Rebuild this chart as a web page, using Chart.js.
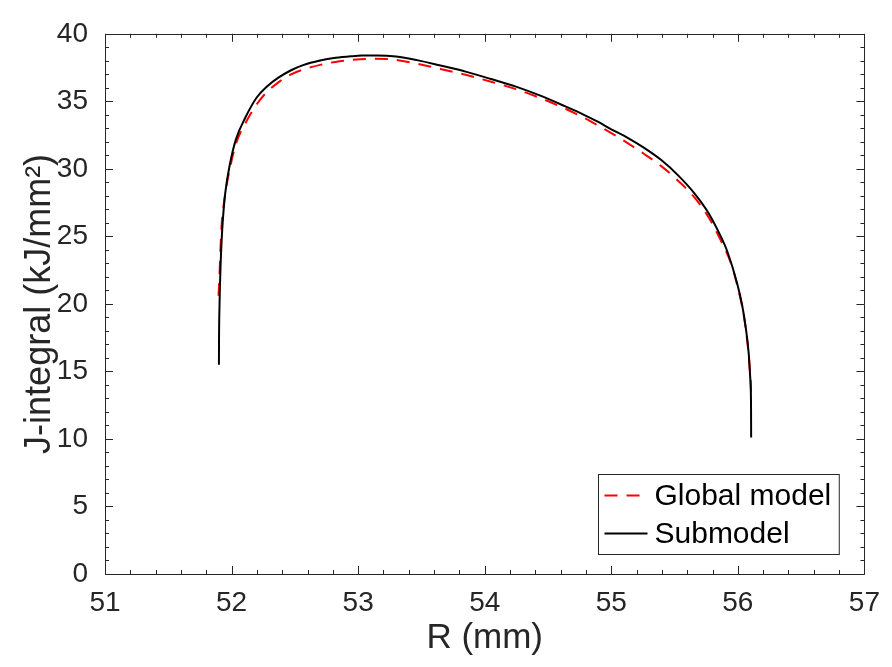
<!DOCTYPE html>
<html>
<head>
<meta charset="utf-8">
<title>J-integral vs R</title>
<script src="https://cdn.jsdelivr.net/npm/chart.js@4.4.1/dist/chart.umd.min.js"></script>
<style>
  html, body { margin: 0; padding: 0; background: #fff; }
  #wrap { width: 892px; height: 667px; }
</style>
</head>
<body>
<div id="wrap"><canvas id="jChart"></canvas></div>
<script>
// R (mm) / J (kJ/mm^2) along the crack front
const rGlobal = [51.897, 51.904, 51.912, 51.921, 51.933, 51.965, 52.000, 52.040, 52.110, 52.200,
                 52.280, 52.383, 52.470, 52.565, 52.700, 52.820, 52.950, 53.100, 53.250, 53.465,
                 53.650, 53.856, 54.050, 54.247, 54.450, 54.638, 54.780, 54.897, 55.000, 55.108,
                 55.260, 55.395, 55.530, 55.660, 55.770, 55.865, 55.950, 56.000, 56.040, 56.070,
                 56.090, 56.100, 56.104];
const jGlobal = [20.6, 22.0, 24.0, 25.8, 27.0, 29.0, 30.6, 32.0, 33.4, 34.8,
                 35.7, 36.5, 37.0, 37.35, 37.7, 37.92, 38.07, 38.15, 38.12, 37.79,
                 37.4, 36.95, 36.45, 35.9, 35.2, 34.45, 33.8, 33.2, 32.65, 32.03,
                 31.1, 30.2, 29.1, 27.85, 26.4, 24.7, 22.9, 21.2, 19.5, 17.6,
                 15.7, 14.3, 13.5];

const rSub = [51.900, 51.901, 51.905, 51.913, 51.922, 51.931, 51.950, 51.986, 52.035, 52.109,
              52.200, 52.280, 52.370, 52.470, 52.565, 52.700, 52.823, 52.950, 53.030, 53.150,
              53.300, 53.465, 53.650, 53.856, 54.050, 54.247, 54.450, 54.638, 54.780, 54.897,
              55.000, 55.130, 55.260, 55.395, 55.530, 55.660, 55.770, 55.865, 55.916, 55.995,
              56.034, 56.060, 56.086, 56.098, 56.104, 56.105];
const jSub = [15.5, 17.5, 20.0, 22.8, 24.8, 26.2, 28.2, 30.3, 32.2, 33.8,
              35.3, 36.1, 36.75, 37.3, 37.68, 38.02, 38.22, 38.34, 38.39, 38.4,
              38.32, 38.05, 37.65, 37.18, 36.65, 36.09, 35.38, 34.62, 34.02, 33.47,
              32.93, 32.3, 31.55, 30.65, 29.5, 28.15, 26.7, 25.0, 23.9, 21.5,
              19.9, 18.4, 16.3, 14.5, 12.6, 10.1];

const xTicks = [51, 52, 53, 54, 55, 56, 57];
const yTicks = [0, 5, 10, 15, 20, 25, 30, 35, 40];
const seriesLabels = ['Global model', 'Submodel'];

const FONT = 'Liberation Sans, Arial, Helvetica, sans-serif';
const INK = '#262626';

const toPoints = (xs, ys) => xs.map((v, i) => ({ x: v, y: ys[i] }));

// box with inward ticks on all four sides (major + minor)
const axisBox = {
  id: 'axisBox',
  beforeDatasetsDraw(chart) {
    const { ctx, chartArea: a, scales: { x, y } } = chart;
    const snap = v => Math.round(v) + 0.5;
    ctx.save();
    ctx.strokeStyle = INK;
    ctx.lineWidth = 1;
    ctx.beginPath();
    const xMin = xTicks[0], xMax = xTicks[xTicks.length - 1];
    for (let i = 0; i <= (xMax - xMin) * 5; i++) {
      const px = snap(x.getPixelForValue(xMin + i * 0.2));
      const len = i % 5 === 0 ? 8 : 4;
      ctx.moveTo(px, a.bottom); ctx.lineTo(px, a.bottom - len);
      ctx.moveTo(px, a.top); ctx.lineTo(px, a.top + len);
    }
    const yMin = yTicks[0], yMax = yTicks[yTicks.length - 1];
    for (let v = yMin; v <= yMax; v++) {
      const py = snap(y.getPixelForValue(v));
      const len = v % 5 === 0 ? 8 : 4;
      ctx.moveTo(a.left, py); ctx.lineTo(a.left + len, py);
      ctx.moveTo(a.right, py); ctx.lineTo(a.right - len, py);
    }
    ctx.rect(snap(a.left), snap(a.top), Math.round(a.right - a.left), Math.round(a.bottom - a.top));
    ctx.stroke();
    ctx.restore();
  }
};

// legend box in the lower right corner of the plot
const cornerLegend = {
  id: 'cornerLegend',
  afterDatasetsDraw(chart) {
    const { ctx, chartArea: a } = chart;
    const sets = chart.data.datasets;
    ctx.save();
    ctx.font = '30px ' + FONT;
    const textW = Math.max(...sets.map(d => ctx.measureText(d.label).width));
    const rowH = 38, lineLen = 43;
    const w = 6 + lineLen + 7 + textW + 8;
    const h = rowH * sets.length + 4;
    const x0 = Math.round(a.right - 26 - w) + 0.5;
    const y0 = Math.round(a.bottom - 20 - h) + 0.5;
    ctx.fillStyle = '#fff';
    ctx.fillRect(x0, y0, w, h);
    ctx.strokeStyle = INK;
    ctx.lineWidth = 1;
    ctx.strokeRect(x0, y0, w, h);
    sets.forEach((d, i) => {
      const cy = y0 + 2 + rowH * (i + 0.5);
      ctx.beginPath();
      ctx.strokeStyle = d.borderColor;
      ctx.lineWidth = d.borderWidth;
      ctx.setLineDash(d.borderDash || []);
      ctx.moveTo(x0 + 6, cy);
      ctx.lineTo(x0 + 6 + lineLen, cy);
      ctx.stroke();
      ctx.setLineDash([]);
      ctx.fillStyle = '#000';
      ctx.textBaseline = 'middle';
      ctx.textAlign = 'left';
      ctx.fillText(d.label, x0 + 6 + lineLen + 7, cy + 1);
    });
    ctx.restore();
  }
};

new Chart(document.getElementById('jChart'), {
  type: 'line',
  data: {
    datasets: [
      {
        label: seriesLabels[0],
        data: toPoints(rGlobal, jGlobal),
        borderColor: '#ff0000',
        borderWidth: 2,
        borderDash: [13, 9],
        pointRadius: 0,
        cubicInterpolationMode: 'monotone',
        fill: false,
        order: 1
      },
      {
        label: seriesLabels[1],
        data: toPoints(rSub, jSub),
        borderColor: '#000000',
        borderWidth: 2,
        pointRadius: 0,
        cubicInterpolationMode: 'monotone',
        fill: false,
        order: 0
      }
    ]
  },
  options: {
    responsive: true,
    maintainAspectRatio: false,
    animation: false,
    layout: { padding: { left: 0, top: 23, right: 20, bottom: 0 } },
    plugins: {
      legend: { display: false },
      tooltip: { enabled: false }
    },
    scales: {
      x: {
        type: 'linear',
        min: xTicks[0],
        max: xTicks[xTicks.length - 1],
        afterBuildTicks: s => { s.ticks = xTicks.map(v => ({ value: v })); },
        afterFit: s => { s.height = 93; },
        grid: { display: false, drawTicks: false },
        border: { display: false },
        ticks: {
          color: INK,
          padding: 12,
          font: { family: FONT, size: 28 },
          maxRotation: 0
        },
        title: {
          display: true,
          text: 'R (mm)',
          color: INK,
          padding: { top: 0, bottom: 8 },
          font: { family: FONT, size: 35 }
        }
      },
      y: {
        type: 'linear',
        min: yTicks[0],
        max: yTicks[yTicks.length - 1],
        afterBuildTicks: s => { s.ticks = yTicks.map(v => ({ value: v })); },
        afterFit: s => { s.width = 105; },
        grid: { display: false, drawTicks: false },
        border: { display: false },
        ticks: {
          color: INK,
          padding: 17,
          font: { family: FONT, size: 28 }
        },
        title: {
          display: true,
          text: 'J-integral (kJ/mm²)',
          color: INK,
          padding: { top: 18, bottom: 0 },
          font: { family: FONT, size: 36 }
        }
      }
    }
  },
  plugins: [axisBox, cornerLegend]
});
</script>
</body>
</html>
